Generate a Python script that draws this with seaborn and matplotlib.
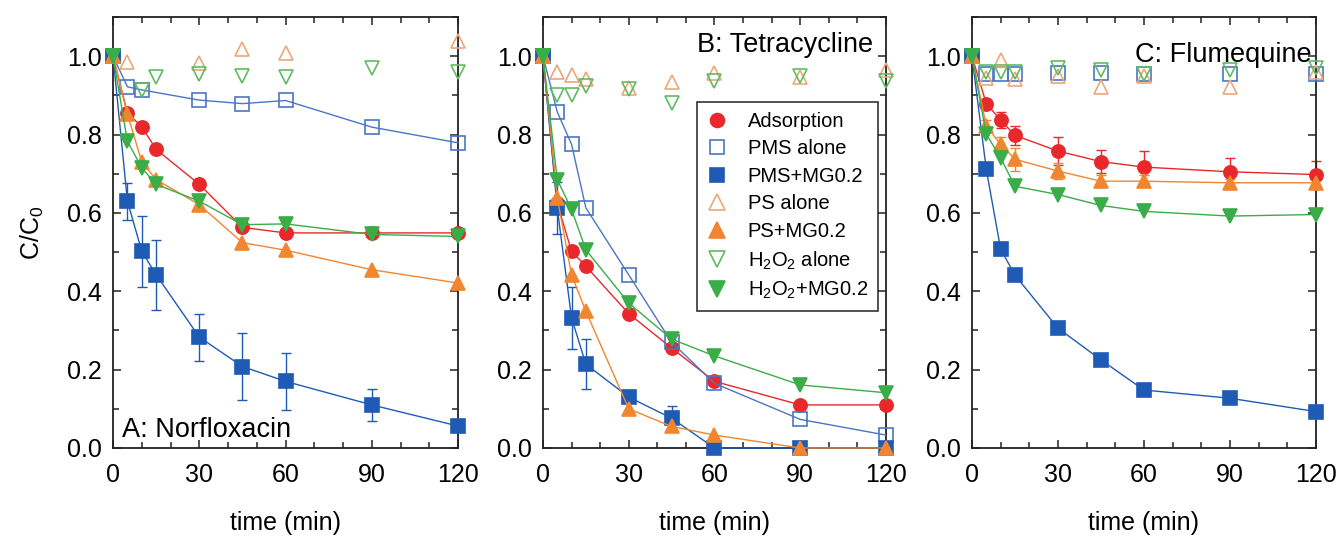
import numpy as np
import pandas as pd
import matplotlib
matplotlib.use("Agg")
import matplotlib.pyplot as plt
from matplotlib.lines import Line2D
from matplotlib.ticker import MultipleLocator, FormatStrFormatter
import seaborn as sns

nan = np.nan
t = [0, 5, 10, 15, 30, 45, 60, 90, 120]

labels = ["Adsorption", "PMS alone", "PMS+MG0.2", "PS alone", "PS+MG0.2",
          "H$_2$O$_2$ alone", "H$_2$O$_2$+MG0.2"]
colors = ["#e8282b", "#4a76c4", "#1f5bb5", "#eba77a", "#f08630", "#5fbb62", "#3aad48"]
markers = ["o", "s", "s", "^", "^", "v", "v"]
filled = [True, False, True, False, True, False, True]

# A: Norfloxacin
a_ads = [1.0, 0.855, 0.820, 0.762, 0.673, 0.563, 0.549, 0.549, 0.549]
a_pms = [1.0, 0.922, 0.914, nan, 0.888, 0.879, 0.887, 0.819, 0.779]
a_pms_mg = [1.0, 0.630, 0.502, 0.442, 0.283, 0.208, 0.170, 0.110, 0.056]
a_pms_mg_err = [0, 0.047, 0.09, 0.089, 0.06, 0.085, 0.072, 0.04, 0.012]
a_ps = [1.0, 0.985, nan, nan, 0.982, 1.018, 1.008, nan, 1.039]
a_ps_mg = [1.0, 0.852, 0.730, 0.685, 0.621, 0.524, 0.505, 0.455, 0.421]
a_h2o2 = [1.0, nan, 0.914, 0.948, 0.954, 0.950, 0.948, 0.971, 0.960]
a_h2o2_mg = [1.0, 0.783, 0.715, 0.673, 0.630, 0.570, 0.572, 0.545, 0.540]

# B: Tetracycline
b_ads = [1.0, 0.625, 0.502, 0.464, 0.343, 0.255, 0.170, 0.110, 0.110]
b_pms = [1.0, 0.858, 0.775, 0.613, 0.442, 0.270, 0.165, 0.073, 0.033]
b_pms_mg = [1.0, 0.612, 0.332, 0.214, 0.130, 0.076, 0.0, 0.0, 0.0]
b_pms_mg_err = [0, 0.066, 0.08, 0.064, 0.01, 0.03, 0, 0, 0]
b_ps = [1.0, 0.960, 0.951, 0.941, 0.920, 0.933, 0.957, 0.946, 0.965]
b_ps_mg = [1.0, 0.639, 0.442, 0.349, 0.100, 0.055, 0.033, 0.0, 0.0]
b_h2o2 = [1.0, 0.900, 0.900, 0.924, 0.916, 0.880, 0.937, 0.950, 0.937]
b_h2o2_mg = [1.0, 0.685, 0.609, 0.506, 0.370, 0.278, 0.235, 0.161, 0.141]

# C: Flumequine
c_ads = [1.0, 0.879, 0.837, 0.798, 0.758, 0.731, 0.717, 0.705, 0.698]
c_ads_err = [0, 0.01, 0.02, 0.025, 0.035, 0.03, 0.04, 0.035, 0.035]
c_pms = [1.0, 0.955, 0.955, 0.955, 0.957, 0.957, 0.955, 0.955, 0.955]
c_pms_mg = [1.0, 0.711, 0.508, 0.441, 0.306, 0.225, 0.148, 0.127, 0.093]
c_ps = [1.0, 0.945, 0.990, 0.941, 0.950, 0.922, 0.950, 0.922, 0.960]
c_ps_mg = [1.0, 0.822, 0.775, 0.737, 0.707, 0.681, 0.681, 0.677, 0.677]
c_ps_mg_err = [0, 0.015, 0.02, 0.03, 0.02, 0.015, 0.015, 0.01, 0.01]
c_h2o2 = [1.0, 0.960, 0.960, 0.960, 0.970, 0.965, 0.955, 0.965, 0.970]
c_h2o2_mg = [1.0, 0.801, 0.741, 0.668, 0.647, 0.619, 0.604, 0.592, 0.596]

sns.set_theme(style="ticks")
plt.rcParams["font.family"] = ["Liberation Sans", "DejaVu Sans"]
plt.rcParams["mathtext.fontset"] = "custom"
plt.rcParams["mathtext.rm"] = "Liberation Sans"
plt.rcParams["mathtext.it"] = "Liberation Sans:italic"
for k in ["text.color", "axes.labelcolor", "xtick.color", "ytick.color"]:
    plt.rcParams[k] = "black"


def draw_panel(ax, series, lines, errs, title, tx, ty, ha):
    for i, y in enumerate(series):
        df = pd.DataFrame({"t": t, "c": y}).dropna()
        ms = 10.5 if markers[i] in "^v" else 9.5
        sns.lineplot(data=df, x="t", y="c", ax=ax, color=colors[i], marker=markers[i],
                     markersize=ms, markerfacecolor=colors[i] if filled[i] else "none",
                     markeredgecolor=colors[i], markeredgewidth=1.2,
                     linewidth=1.0, linestyle="-" if lines[i] else "none",
                     errorbar=None, clip_on=False, zorder=3 + i)
        if i in errs:
            ax.errorbar(t, y, yerr=errs[i], fmt="none", ecolor=colors[i], elinewidth=1,
                        capsize=3.5, capthick=1, clip_on=False, zorder=2)
    ax.set_xlim(0, 120)
    ax.set_ylim(0, 1.1)
    ax.xaxis.set_major_locator(MultipleLocator(30))
    ax.xaxis.set_minor_locator(MultipleLocator(10))
    ax.yaxis.set_major_locator(MultipleLocator(0.2))
    ax.yaxis.set_minor_locator(MultipleLocator(0.1))
    ax.yaxis.set_major_formatter(FormatStrFormatter("%.1f"))
    ax.tick_params(which="both", direction="in", top=True, right=True,
                   color="#222222", width=1.1)
    ax.tick_params(which="major", length=6, labelsize=18)
    ax.tick_params(axis="x", which="major", pad=11)
    ax.tick_params(axis="y", which="major", pad=8)
    ax.tick_params(which="minor", length=4)
    for s in ax.spines.values():
        s.set_color("#222222")
        s.set_linewidth(1.3)
    ax.set_xlabel("time (min)", fontsize=18, labelpad=17)
    ax.set_ylabel("")
    ax.text(tx, ty, title, transform=ax.transAxes, fontsize=19.5, ha=ha, va="baseline")
    if ax.get_legend() is not None:
        ax.get_legend().remove()


fig = plt.figure(figsize=(13.41, 5.38), dpi=100)
ax_a = fig.add_axes([0.0843, 0.1673, 0.2573, 0.801])
ax_b = fig.add_axes([0.4049, 0.1673, 0.2558, 0.801])
ax_c = fig.add_axes([0.7248, 0.1673, 0.2565, 0.801])

draw_panel(ax_a, [a_ads, a_pms, a_pms_mg, a_ps, a_ps_mg, a_h2o2, a_h2o2_mg],
           [True, True, True, False, True, False, True], {2: a_pms_mg_err},
           "A: Norfloxacin", 0.025, 0.026, "left")
draw_panel(ax_b, [b_ads, b_pms, b_pms_mg, b_ps, b_ps_mg, b_h2o2, b_h2o2_mg],
           [True, True, True, False, True, False, True], {2: b_pms_mg_err},
           "B: Tetracycline", 0.962, 0.919, "right")
draw_panel(ax_c, [c_ads, c_pms, c_pms_mg, c_ps, c_ps_mg, c_h2o2, c_h2o2_mg],
           [True, False, True, False, True, False, True], {0: c_ads_err, 4: c_ps_mg_err},
           "C: Flumequine", 0.988, 0.896, "right")

ax_a.set_ylabel("C/C$_0$", fontsize=18, labelpad=15)

handles = [Line2D([], [], linestyle="none", marker=markers[i],
                  markersize=11 if markers[i] in "^v" else 10,
                  markerfacecolor=colors[i] if filled[i] else "none",
                  markeredgecolor=colors[i], markeredgewidth=1.2) for i in range(7)]
leg = ax_b.legend(handles, labels, loc="upper right", bbox_to_anchor=(0.977, 0.803),
                  fontsize=14.5, frameon=True, fancybox=False, edgecolor="#222222",
                  framealpha=1, labelspacing=0.42, handlelength=1.0, handletextpad=1.0,
                  borderpad=0.5, borderaxespad=0)
leg.get_frame().set_linewidth(1.1)

fig.savefig("out.png", dpi=100)
